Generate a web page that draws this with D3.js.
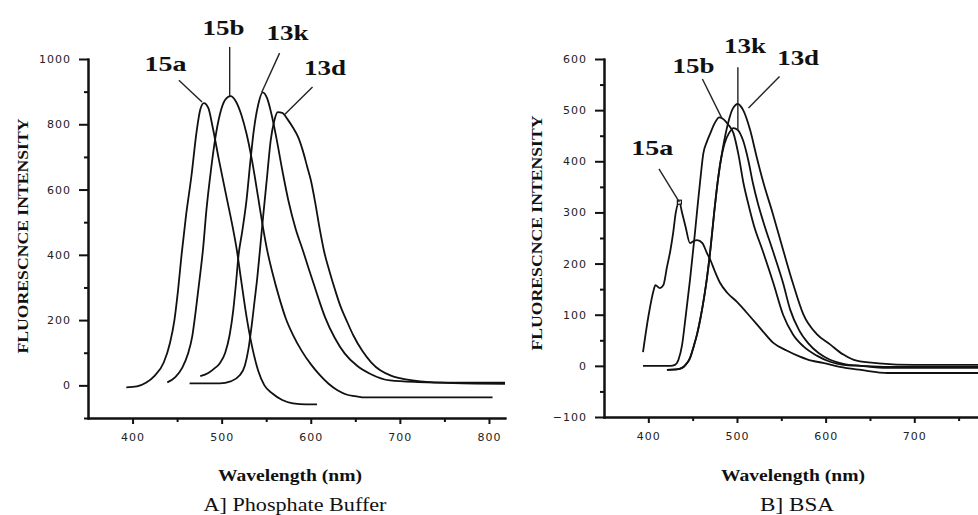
<!DOCTYPE html>
<html>
<head>
<meta charset="utf-8">
<script src="https://cdn.jsdelivr.net/npm/d3@7"></script>
<style>
	body { margin: 0; background: #fff; }
	svg { display: block; }
	.tick text { font-family: "DejaVu Sans", sans-serif; font-size: 11px; letter-spacing: 1px; fill: #222; }
	.axis path, .axis line { stroke: #111; stroke-width: 2; }
	.curve { fill: none; stroke: #111; stroke-width: 1.8; stroke-linejoin: round; }
	.leader { stroke: #222; stroke-width: 1.4; }
	.tag { font-family: "Liberation Serif", serif; font-weight: bold; font-size: 22px; fill: #111; }
	.title { font-family: "Liberation Serif", serif; font-weight: bold; fill: #111; }
	.caption { font-family: "Liberation Serif", serif; font-size: 19px; fill: #111; }
</style>
</head>
<body>
<script>
/* A] Phosphate Buffer : emission spectra (wavelength nm, intensity) */
const nm15aA = [393, 405, 415, 425, 435, 442, 447, 451, 455, 460, 466, 472, 476, 480, 485, 490, 497, 506, 512, 517, 522, 528, 535, 541, 548, 557, 568, 580, 595, 607];
const int15aA = [-6, -3, 8, 30, 70, 130, 200, 290, 400, 520, 640, 780, 845, 865, 850, 790, 690, 570, 490, 415, 320, 209, 108, 45, 0, -25, -45, -55, -58, -58];

const nm15bA = [439, 448, 456, 462, 467, 471, 475, 479, 483, 488, 493, 498, 504, 510, 516, 522, 528, 534, 541, 546, 551, 557, 565, 572, 580, 590, 600, 610, 620, 630, 640, 650, 661, 700, 760, 804];
const int15bA = [9, 25, 55, 95, 150, 230, 320, 415, 540, 660, 760, 830, 875, 886, 870, 830, 770, 690, 575, 490, 415, 345, 265, 205, 155, 105, 65, 32, 5, -15, -28, -33, -37, -37, -37, -37];

const nm13kA = [476, 485, 492, 498, 504, 509, 513, 516, 519, 523, 528, 532, 536, 541, 546, 551, 556, 562, 568, 575, 583, 591, 598, 604, 610, 616, 627, 638, 652, 667, 689, 720, 760, 818];
const int13kA = [28, 38, 52, 68, 100, 155, 230, 310, 400, 470, 570, 680, 780, 860, 898, 880, 830, 750, 660, 565, 480, 415, 355, 305, 255, 209, 145, 98, 60, 35, 15, 10, 8, 8];

const nm13dA = [464, 480, 498, 510, 520, 526, 530, 534, 537, 540, 543, 547, 551, 555, 559, 563, 568, 574, 580, 586, 591, 596, 600, 605, 610, 615, 621, 627, 633, 640, 648, 658, 668, 678, 690, 700, 723, 760, 818];
const int13dA = [6, 6, 6, 12, 30, 60, 110, 190, 260, 330, 415, 530, 640, 750, 810, 837, 835, 815, 790, 760, 720, 670, 630, 560, 480, 410, 350, 295, 245, 200, 152, 105, 70, 46, 30, 22, 12, 7, 5];

/* B] BSA */
const nm15aB = [394, 400, 406, 408, 413, 417, 421, 425, 428, 431, 435, 438, 442, 447, 451, 455, 461, 466, 470, 475, 481, 489, 500, 515, 528, 541, 556, 571, 584, 597, 616, 640, 670, 700, 740, 772];
const int15aB = [27, 96, 148, 158, 152, 158, 193, 227, 260, 300, 320, 300, 272, 240, 244, 246, 240, 221, 207, 185, 162, 143, 125, 96, 70, 45, 30, 18, 10, 6, -2, -8, -14, -14, -14, -14];

const nm15bB = [394, 425, 430, 434, 438, 442, 447, 452, 456, 459, 462, 466, 470, 475, 480, 485, 490, 496, 502, 507, 513, 519, 529, 541, 552, 563, 575, 590, 605, 620, 640, 670, 772];
const int15bB = [0, 0, 2, 12, 40, 95, 168, 250, 320, 370, 415, 438, 455, 475, 486, 482, 472, 455, 410, 360, 315, 275, 225, 162, 100, 62, 38, 20, 8, 2, 0, -2, -2];

const nm13kB = [421, 432, 438, 442, 447, 451, 455, 459, 463, 466, 470, 474, 478, 482, 486, 491, 496, 501, 507, 513, 518, 524, 530, 541, 552, 560, 570, 580, 592, 605, 620, 640, 670, 772];
const int13kB = [-8, -7, -4, 2, 15, 37, 62, 95, 135, 170, 227, 295, 357, 405, 435, 455, 465, 461, 440, 400, 357, 315, 280, 222, 162, 110, 70, 45, 25, 12, 4, 0, -4, -4];

const nm13dB = [421, 432, 438, 442, 447, 451, 455, 459, 463, 466, 470, 474, 478, 484, 490, 495, 501, 507, 515, 522, 530, 540, 552, 563, 575, 590, 605, 620, 635, 660, 700, 772];
const int13dB = [-8, -7, -4, 2, 15, 37, 62, 95, 135, 170, 227, 295, 357, 425, 475, 502, 512, 500, 460, 410, 357, 300, 227, 162, 100, 62, 42, 22, 10, 5, 2, 2];

/* Axis ticks */
const xTicks = [400, 500, 600, 700, 800];
const xMinorTicks = [450, 550, 650, 750];
const yTicksA = [0, 200, 400, 600, 800, 1000];
const yMinorTicksA = [-100, 100, 300, 500, 700, 900];
const yTicksB = [-100, 0, 100, 200, 300, 400, 500, 600];
const yMinorTicksB = [-50, 50, 150, 250, 350, 450, 550];

const seriesNames = ["15a", "15b", "13k", "13d"];

/* Label anchors in data units: text, leader start, leader end */
const tagsA = [
	{ name: "15a", text: [437, 988], from: [452, 935], to: [478, 868] },
	{ name: "15b", text: [502, 1098], from: [509, 1037], to: [509, 886] },
	{ name: "13k", text: [574, 1083], from: [565, 1018], to: [545, 898] },
	{ name: "13d", text: [616, 975], from: [602, 914], to: [571, 831] }
];
const tagsB = [
	{ name: "15a", text: [404.5, 428], from: [412, 385], to: [435, 320] },
	{ name: "15b", text: [451, 588], from: [461, 561], to: [483, 484] },
	{ name: "13k", text: [509, 627], from: [501, 584], to: [501, 461] },
	{ name: "13d", text: [569, 604], from: [548, 566], to: [513, 504] }
];

document.addEventListener("DOMContentLoaded", function() {
	const svg = d3.select("body")
				  .append("svg")
				  .attr("width", 978)
				  .attr("height", 515);

	drawPanel(svg, {
		xDomain: [350, 818], xRange: [88, 505],
		yDomain: [-100, 1000], yRange: [418, 59],
		xTicks: xTicks, xMinor: xMinorTicks,
		yTicks: yTicksA, yMinor: yMinorTicksA,
		series: [[nm15aA, int15aA], [nm15bA, int15bA], [nm13kA, int13kA], [nm13dA, int13dA]],
		tags: tagsA,
		yTitleX: 23, yTitleY: 236,
		xTitleX: 290, caption: "A] Phosphate Buffer", captionX: 295, captionWidth: 183,
		peakBox: false
	});

	drawPanel(svg, {
		xDomain: [350, 773], xRange: [604, 979],
		yDomain: [-100, 600], yRange: [417, 59],
		xTicks: xTicks.filter(d => d <= 700), xMinor: xMinorTicks,
		yTicks: yTicksB, yMinor: yMinorTicksB,
		series: [[nm15aB, int15aB], [nm15bB, int15bB], [nm13kB, int13kB], [nm13dB, int13dB]],
		tags: tagsB,
		yTitleX: 537, yTitleY: 233,
		xTitleX: 793, caption: "B] BSA", captionX: 797, captionWidth: 74,
		peakBox: true
	});
});

/**
 * @method drawPanel draws one spectrum plot with its axes, curves and tags
 * @param {Object} svg the svg selection
 * @param {Object} p the panel settings (scales' domains/ranges, data and texts)
 */
function drawPanel(svg, p) {
	const x = d3.scaleLinear().domain(p.xDomain).range(p.xRange);
	const y = d3.scaleLinear().domain(p.yDomain).range(p.yRange);

	// minor ticks first, the labelled ones on top
	svg.append("g").attr("class", "axis")
	   .attr("transform", `translate(0, ${p.yRange[0]})`)
	   .call(d3.axisBottom(x).tickValues(p.xMinor).tickSize(4).tickSizeOuter(0).tickFormat(""));
	svg.append("g").attr("class", "axis")
	   .attr("transform", `translate(0, ${p.yRange[0]})`)
	   .call(d3.axisBottom(x).tickValues(p.xTicks).tickSize(6).tickSizeOuter(0).tickPadding(9));

	svg.append("g").attr("class", "axis")
	   .attr("transform", `translate(${p.xRange[0]}, 0)`)
	   .call(d3.axisLeft(y).tickValues(p.yMinor).tickSize(4).tickSizeOuter(0).tickFormat(""));
	svg.append("g").attr("class", "axis")
	   .attr("transform", `translate(${p.xRange[0]}, 0)`)
	   .call(d3.axisLeft(y).tickValues(p.yTicks).tickSize(9).tickSizeOuter(0).tickPadding(8).tickFormat(d3.format("d")));

	svg.selectAll(".axis .domain").attr("stroke-linecap", "square");

	const line = d3.line()
				   .x(d => x(d[0]))
				   .y(d => y(d[1]))
				   .curve(d3.curveMonotoneX);

	p.series.forEach((s, i) => {
		const points = d3.zip(s[0], s[1]);
		svg.append("path")
		   .attr("class", "curve")
		   .attr("data-name", seriesNames[i])
		   .attr("d", line(points));
	});

	// the little square on the 15a maximum (BSA only)
	if (p.peakBox) {
		const s = p.series[0];
		const k = d3.maxIndex(s[1]);
		svg.append("rect")
		   .attr("x", x(s[0][k]) - 2).attr("y", y(s[1][k]) - 2)
		   .attr("width", 4).attr("height", 4)
		   .attr("fill", "#fff").attr("stroke", "#111").attr("stroke-width", 1.2);
	}

	p.tags.forEach(t => {
		svg.append("line")
		   .attr("class", "leader")
		   .attr("x1", x(t.from[0])).attr("y1", y(t.from[1]))
		   .attr("x2", x(t.to[0])).attr("y2", y(t.to[1]));
		svg.append("text")
		   .attr("class", "tag")
		   .attr("x", x(t.text[0])).attr("y", y(t.text[1]))
		   .attr("dy", "0.35em")
		   .attr("text-anchor", "middle")
		   .attr("textLength", 42)
		   .attr("lengthAdjust", "spacingAndGlyphs")
		   .text(t.name);
	});

	// rotated y title
	svg.append("text")
	   .attr("class", "title")
	   .attr("transform", `translate(${p.yTitleX}, ${p.yTitleY}) rotate(-90)`)
	   .attr("text-anchor", "middle")
	   .attr("dy", "0.35em")
	   .attr("font-size", 15)
	   .attr("textLength", 235)
	   .attr("lengthAdjust", "spacingAndGlyphs")
	   .text("FLUORESCNCE INTENSITY");

	svg.append("text")
	   .attr("class", "title")
	   .attr("x", p.xTitleX).attr("y", 481)
	   .attr("text-anchor", "middle")
	   .attr("font-size", 16)
	   .attr("textLength", 144)
	   .attr("lengthAdjust", "spacingAndGlyphs")
	   .text("Wavelength (nm)");

	svg.append("text")
	   .attr("class", "caption")
	   .attr("x", p.captionX).attr("y", 511)
	   .attr("text-anchor", "middle")
	   .attr("textLength", p.captionWidth)
	   .attr("lengthAdjust", "spacingAndGlyphs")
	   .text(p.caption);
}
</script>
</body>
</html>
